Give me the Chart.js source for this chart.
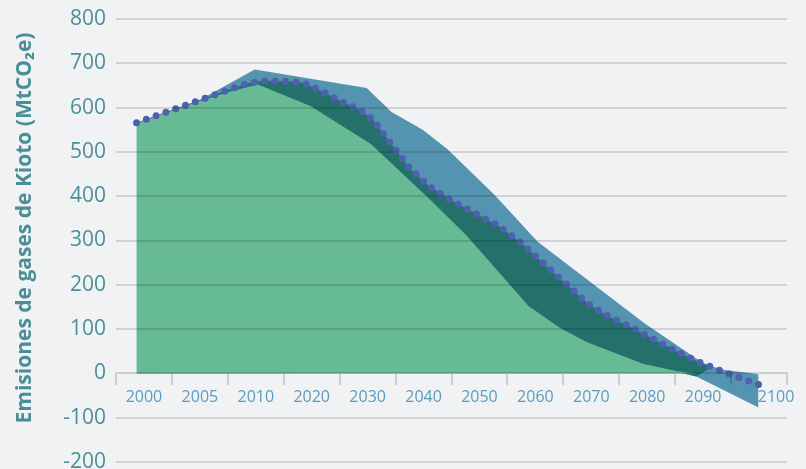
<!DOCTYPE html>
<html><head><meta charset="utf-8">
<script src="https://cdn.jsdelivr.net/npm/chart.js@4/dist/chart.umd.min.js"></script>
<style>html,body{margin:0;padding:0;background:#f1f2f4;}</style>
</head><body>
<canvas id="c" width="806" height="469" style="display:block"></canvas>
<script>
// ---- data ----
const xLabels = ['2000','2005','2010','2020','2030','2040','2050','2060','2070','2080','2090','2100'];
const yTitle = 'Emisiones de gases de Kioto (MtCO\u2082e)';

// central trajectory (dotted line)
const centralYears  = [2000,2005,2010,2015,2018,2020,2025,2027,2030,2033,2036,2038,2041,2044,2047,2050,2055,2058,2062,2066,2070,2073,2076,2080,2085,2090,2095,2100];
const centralValues = [566,591,616,641,655,660,659,655,636,613,594,573,517,462,423,396,357,335,293,241,190,153,128,101,63,28,0,-25];

// upper bound of range (blue)
const upperYears  = [2000,2005,2010,2019,2037,2041,2046,2050,2057.5,2064.5,2081.5,2091,2094,2100];
const upperValues = [565,590,616,686,644,590,550,506,404,297,115,24,9,-2];

// lower bound of range (blue, visible below zero)
const lowerYears  = [2000,2087,2090,2100];
const lowerValues = [0,3,-7,-77];

// green area
const greenYears  = [2000,2005,2010,2015,2019.5,2028,2037.7,2047,2053,2063,2068,2072.5,2081.5,2087,2090];
const greenValues = [564,589,614,636,652,603,517,395,312,152,103,70,21,5,0];

// lower edge of the dark band
const darkYears  = [2000,2005,2010,2015,2019.5,2028,2037.7,2047,2053,2063,2068,2072.5,2081.5,2087,2090,2092.5];
const darkValues = [564,589,614,636,652,603,517,395,312,152,103,70,21,3,-7,14];

const pts = (xs, ys) => xs.map((x, i) => ({x: x, y: ys[i]}));

const GRID = 'rgba(0,0,0,0.13)';

const titlePlugin = {
  id: 'ytitle',
  beforeDraw(chart) {
    // nudge the last category label to the right, clear of the area
    const items = chart.scales.x.getLabelItems();
    const last = items[items.length - 1];
    if (last && !last._nudged) { last.options.translation[0] += 17; last._nudged = true; }
  },
  afterDraw(chart) {
    const ctx = chart.ctx;
    ctx.save();
    ctx.translate(25, 228);
    ctx.rotate(-Math.PI / 2);
    ctx.font = 'bold 21px "Open Sans"';
    ctx.fillStyle = '#4a8e97';
    ctx.textAlign = 'center';
    ctx.textBaseline = 'middle';
    ctx.fillText(yTitle, 0, 0);
    ctx.restore();
  }
};

new Chart(document.getElementById('c'), {
  type: 'line',
  data: {
    datasets: [
      { // 0 central dotted
        data: pts(centralYears, centralValues),
        xAxisID: 'xd', yAxisID: 'y',
        borderColor: '#5060b0', borderWidth: 7,
        borderDash: [0, 10.4], borderCapStyle: 'round',
        pointRadius: 0, fill: false, tension: 0
      },
      { // 1 green
        data: pts(greenYears, greenValues),
        xAxisID: 'xd', yAxisID: 'y',
        borderColor: 'transparent', borderWidth: 0,
        backgroundColor: '#66bb94', fill: 'origin',
        pointRadius: 0, tension: 0
      },
      { // 2 dark band (to central)
        data: pts(darkYears, darkValues),
        xAxisID: 'xd', yAxisID: 'y',
        borderColor: 'transparent', borderWidth: 0,
        backgroundColor: '#24706a', fill: {target: 0},
        pointRadius: 0, tension: 0
      },
      { // 3 blue range upper
        data: pts(upperYears, upperValues),
        xAxisID: 'xd', yAxisID: 'y',
        borderColor: 'transparent', borderWidth: 0,
        backgroundColor: '#5594b0', fill: {target: 4},
        pointRadius: 0, tension: 0
      },
      { // 4 blue range lower
        data: pts(lowerYears, lowerValues),
        xAxisID: 'xd', yAxisID: 'y',
        borderColor: 'transparent', borderWidth: 0,
        pointRadius: 0, fill: false, tension: 0
      }
    ]
  },
  options: {
    responsive: false,
    animation: false,
    layout: { padding: { left: 0, right: 19, top: 19, bottom: 7 } },
    plugins: { legend: { display: false }, tooltip: { enabled: false } },
    scales: {
      xd: {
        type: 'linear', display: false, min: 1996.7, max: 2104.58
      },
      x: {
        type: 'category', labels: xLabels, offset: true,
        position: { y: 0 },
        grid: { offset: true, drawOnChartArea: false, drawTicks: true, tickLength: 11, color: 'rgba(0,0,0,0.15)', lineWidth: 2, z: 1 },
        border: { display: true, color: 'rgba(0,0,0,0.15)', width: 2, z: 1 },
        ticks: { color: '#5b9cbc', font: { family: 'Open Sans', size: 16 }, padding: 3, maxRotation: 0, autoSkip: false, z: 1 }
      },
      y: {
        type: 'linear', min: -200, max: 800,
        grid: { color: (c) => (c.tick && c.tick.value === 0) ? 'transparent' : GRID, lineWidth: 2, drawTicks: false, z: 1 },
        border: { display: false },
        ticks: { stepSize: 100, color: '#4d8f98', font: { family: 'Open Sans', size: 21 }, padding: 10 },
        afterFit(s) { s.width = 116; s.paddingTop = 0; s.paddingBottom = 0; }
      }
    }
  },
  plugins: [titlePlugin]
});
</script>
</body></html>
